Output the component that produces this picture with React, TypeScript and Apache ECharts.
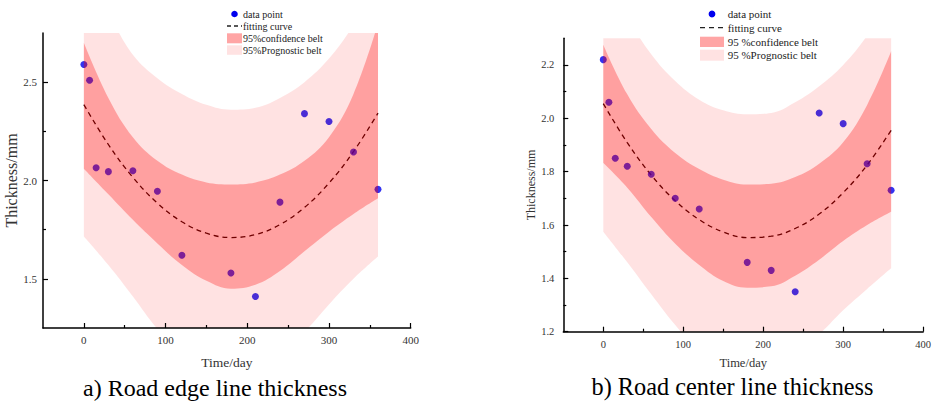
import React, { useEffect, useRef } from "react";
import * as echarts from "echarts";

// ---- data ----
const bandDays = [0, 30, 60, 90, 120, 150, 180, 210, 240, 270, 300, 330, 360];

// a) Road edge line thickness
const edgeDays = [0, 7, 15, 30, 60, 90, 120, 180, 210, 240, 270, 300, 330, 360];
const edgeThickness = [2.59, 2.51, 2.065, 2.045, 2.05, 1.945, 1.62, 1.53, 1.41, 1.89, 2.34, 2.3, 2.145, 1.955];
const edgeFit = [2.386, 2.183, 2.016, 1.885, 1.79, 1.732, 1.71, 1.725, 1.776, 1.863, 1.987, 2.147, 2.343];
const edgeConfUpper = [2.7, 2.42, 2.22, 2.1, 2.03, 1.99, 1.98, 1.99, 2.03, 2.1, 2.22, 2.44, 2.8];
const edgeConfLower = [2.06, 1.93, 1.8, 1.68, 1.57, 1.49, 1.45, 1.47, 1.54, 1.64, 1.74, 1.83, 1.91];
const edgePredUpper = [3.0, 2.84, 2.64, 2.52, 2.44, 2.385, 2.36, 2.37, 2.42, 2.5, 2.62, 2.79, 3.0];
const edgePredLower = [1.715, 1.57, 1.41, 1.245, 1.12, 1.06, 1.04, 1.06, 1.12, 1.23, 1.37, 1.5, 1.613];

// b) Road center line thickness
const centerDays = [0, 7, 15, 30, 60, 90, 120, 180, 210, 240, 270, 300, 330, 360];
const centerThickness = [2.22, 2.06, 1.85, 1.82, 1.79, 1.7, 1.66, 1.46, 1.43, 1.35, 2.02, 1.98, 1.83, 1.73];
const centerFit = [2.055, 1.909, 1.787, 1.691, 1.62, 1.574, 1.553, 1.558, 1.587, 1.641, 1.721, 1.825, 1.955];
const centerConfUpper = [2.276, 2.09, 1.96, 1.87, 1.81, 1.77, 1.752, 1.755, 1.78, 1.83, 1.91, 2.05, 2.251];
const centerConfLower = [1.833, 1.74, 1.63, 1.53, 1.45, 1.39, 1.365, 1.37, 1.41, 1.47, 1.54, 1.6, 1.65];
const centerPredUpper = [2.55, 2.38, 2.24, 2.14, 2.07, 2.03, 2.015, 2.02, 2.06, 2.12, 2.2, 2.31, 2.45];
const centerPredLower = [1.575, 1.46, 1.34, 1.225, 1.13, 1.08, 1.06, 1.07, 1.12, 1.19, 1.28, 1.36, 1.4375];

const xMajor = [0, 100, 200, 300, 400];
const xMinor = [50, 150, 250, 350];
const edgeYMajor = [1.5, 2.0, 2.5];
const edgeYMinor = [1.75, 2.25];
const centerYMajor = [1.2, 1.4, 1.6, 1.8, 2.0, 2.2];
const centerYMinor = [1.3, 1.5, 1.7, 1.9, 2.1];

const legendNames = ["data point", "fitting curve", "95%confidence belt", "95%Prognostic belt"];
const legendNamesB = ["data point", "fitting curve", "95 %confidence belt", "95 %Prognostic belt"];
const captions = ["a) Road edge line thickness", "b) Road center line thickness"];

const SERIF = '"Liberation Serif", "Times New Roman", "DejaVu Serif", serif';
const DOT = "#0000ee";
const CONF_FILL = "rgba(255,0,0,0.29)";
const PRED_FILL = "rgba(255,0,0,0.115)";

function panelSeries(
  g: number,
  days: number[],
  vals: number[],
  fit: number[],
  cu: number[],
  cl: number[],
  pu: number[],
  pl: number[]
) {
  const ax = { xAxisIndex: g * 2, yAxisIndex: g * 2 };
  const hidden = { opacity: 0, width: 0 };
  // band series: value first so that the stack is applied to the y value
  const band = (stack: string, arr: number[], fill?: string) => ({
    type: "line",
    ...ax,
    z: 4,
    stack,
    smooth: 0.4,
    symbol: "none",
    lineStyle: hidden,
    encode: { x: 1, y: 0 },
    ...(fill ? { areaStyle: { color: fill, opacity: 1 } } : {}),
    data: bandDays.map((d, i) => [arr[i], d]),
  });
  return [
    {
      type: "scatter",
      ...ax,
      z: 2,
      name: "data point",
      symbolSize: 7,
      itemStyle: { color: DOT },
      data: days.map((d, i) => [d, vals[i]]),
    },
    {
      type: "line",
      ...ax,
      z: 2,
      name: "fitting curve",
      smooth: 0.4,
      symbol: "none",
      lineStyle: { color: "#1a0000", width: 1.3, type: [5, 4] },
      data: bandDays.map((d, i) => [d, fit[i]]),
    },
    band("pred" + g, pl),
    band("pred" + g, pu.map((u, i) => +(u - pl[i]).toFixed(4)), PRED_FILL),
    band("conf" + g, cl),
    band("conf" + g, cu.map((u, i) => +(u - cl[i]).toFixed(4)), CONF_FILL),
  ];
}

function xAxes(g: number, nameGap: number, nameSize: number, labelSize: number, margin: number) {
  return [
    {
      gridIndex: g,
      type: "value",
      min: -50,
      max: 400,
      position: "bottom",
      z: 6,
      axisLine: { show: true, onZero: false, lineStyle: { color: "#000", width: 1.5 } },
      axisTick: { show: true, inside: true, length: 5, customValues: xMajor, lineStyle: { color: "#000", width: 1.2 } },
      axisLabel: { show: true, customValues: xMajor, margin, fontSize: labelSize, fontFamily: SERIF, color: "#333" },
      splitLine: { show: false },
      name: "Time/day",
      nameLocation: "middle",
      nameGap,
      nameTextStyle: { fontSize: nameSize, fontFamily: SERIF, color: "#333" },
    },
    {
      gridIndex: g,
      type: "value",
      min: -50,
      max: 400,
      position: "bottom",
      z: 6,
      axisLine: { show: false, onZero: false },
      axisTick: { show: true, inside: true, length: 3, customValues: xMinor, lineStyle: { color: "#000", width: 1.2 } },
      axisLabel: { show: false },
      splitLine: { show: false },
    },
  ];
}

function yAxes(
  g: number,
  min: number,
  max: number,
  major: number[],
  minor: number[],
  nameGap: number,
  nameSize: number,
  labelSize: number,
  margin: number
) {
  return [
    {
      gridIndex: g,
      type: "value",
      min,
      max,
      position: "left",
      z: 6,
      axisLine: { show: true, onZero: false, lineStyle: { color: "#000", width: 1.5 } },
      axisTick: { show: true, inside: true, length: 5, customValues: major, lineStyle: { color: "#000", width: 1.2 } },
      axisLabel: {
        show: true,
        customValues: major,
        margin,
        fontSize: labelSize,
        fontFamily: SERIF,
        color: "#333",
        formatter: (v: number) => v.toFixed(1),
      },
      splitLine: { show: false },
      name: "Thickness/mm",
      nameLocation: "middle",
      nameGap,
      nameTextStyle: { fontSize: nameSize, fontFamily: SERIF, color: "#333" },
    },
    {
      gridIndex: g,
      type: "value",
      min,
      max,
      position: "left",
      z: 6,
      axisLine: { show: false, onZero: false },
      axisTick: { show: true, inside: true, length: 3, customValues: minor, lineStyle: { color: "#000", width: 1.2 } },
      axisLabel: { show: false },
      splitLine: { show: false },
    },
  ];
}

function legendGraphics(
  names: string[],
  iconX: number,
  iconW: number,
  textX: number,
  rows: number[],
  rectRows: number[][],
  fontSize: number,
  dotR: number,
  dash: number[]
) {
  const els: any[] = [];
  els.push({ type: "circle", shape: { cx: iconX + iconW / 2, cy: rows[0], r: dotR }, style: { fill: DOT } });
  els.push({
    type: "line",
    shape: { x1: iconX, y1: rows[1], x2: iconX + iconW, y2: rows[1] },
    style: { stroke: "#222", lineWidth: 1.3, lineDash: dash },
  });
  els.push({
    type: "rect",
    shape: { x: iconX, y: rectRows[0][0], width: iconW, height: rectRows[0][1] },
    style: { fill: "#ffa5a5" },
  });
  els.push({
    type: "rect",
    shape: { x: iconX, y: rectRows[1][0], width: iconW, height: rectRows[1][1] },
    style: { fill: "#ffe2e2" },
  });
  names.forEach((n, i) => {
    els.push({
      type: "text",
      x: textX,
      y: rows[i],
      style: { text: n, fontSize, fontFamily: SERIF, fill: "#222", align: "left", verticalAlign: "middle" },
    });
  });
  return els;
}

export default function App() {
  const ref = useRef<HTMLDivElement>(null);
  useEffect(() => {
    if (!ref.current) return;
    const chart = echarts.init(ref.current, undefined, { renderer: "svg" });
    const option: any = {
      animation: false,
      backgroundColor: "#fff",
      grid: [
        { left: 43, top: 33, width: 367.7, height: 295 },
        { left: 563.3, top: 38.3, width: 362.7, height: 293.4 },
      ],
      xAxis: [...xAxes(0, 27, 13.5, 11, 6), ...xAxes(1, 25, 12.5, 10.5, 7)],
      yAxis: [
        ...yAxes(0, 1.25, 2.75, edgeYMajor, edgeYMinor, 22, 16, 11, 6),
        ...yAxes(1, 1.2, 2.3, centerYMajor, centerYMinor, 24, 12, 10.5, 9),
      ],
      series: [
        ...panelSeries(0, edgeDays, edgeThickness, edgeFit, edgeConfUpper, edgeConfLower, edgePredUpper, edgePredLower),
        ...panelSeries(
          1,
          centerDays,
          centerThickness,
          centerFit,
          centerConfUpper,
          centerConfLower,
          centerPredUpper,
          centerPredLower
        ),
      ],
      graphic: [
        ...legendGraphics(legendNames, 227, 15, 243, [14, 26, 38, 50], [[33.3, 10], [45.3, 9.5]], 10, 3.3, [4, 3]),
        ...legendGraphics(legendNamesB, 700, 24, 727.7, [14, 27.7, 42, 55], [[36.7, 10.3], [49.7, 11]], 11, 3.4, [5, 4]),
        {
          type: "text",
          x: 215,
          y: 388,
          style: { text: captions[0], fontSize: 24, fontFamily: SERIF, fill: "#000", align: "center", verticalAlign: "middle" },
        },
        {
          type: "text",
          x: 732.5,
          y: 386,
          style: { text: captions[1], fontSize: 24.3, fontFamily: SERIF, fill: "#000", align: "center", verticalAlign: "middle" },
        },
      ],
    };
    chart.setOption(option);
    return () => chart.dispose();
  }, []);
  return <div ref={ref} style={{ position: "absolute", left: 0, top: 0, width: 934, height: 402 }} />;
}
